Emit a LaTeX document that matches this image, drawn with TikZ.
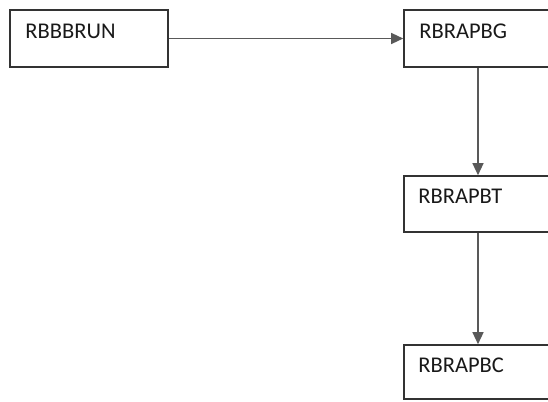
\documentclass[tikz,border=0pt]{standalone}
\usepackage{fontspec}
\setmainfont{Carlito}
\usetikzlibrary{arrows.meta}

\begin{document}
\begin{tikzpicture}[x=1pt, y=-1pt,
  box/.style={draw=black!80, line width=1.6pt, fill=white, rectangle, inner sep=0pt},
  txt/.style={anchor=base west, inner sep=0pt, font=\fontsize{22.5}{25}\selectfont, text=black!90},
  link/.style={draw=black!65, line width=1.3pt, -{Triangle[length=12pt,width=11pt]}}]
  \useasboundingbox (0,0) rectangle (548,401);
  \clip (0,0) rectangle (548,401);
  \node (run) [box, minimum width=158pt, minimum height=57pt] at (89,38.5) {};
  \node (bg) [box, minimum width=148pt, minimum height=57pt] at (478,38.5) {};
  \node (bt) [box, minimum width=148pt, minimum height=56pt] at (478,204) {};
  \node (bc) [box, minimum width=148pt, minimum height=54pt] at (478,372) {};
  \node (runtxt) [txt] at ([xshift=16pt, yshift=-29pt]run.north west) {RBBBRUN};
  \node (bgtxt) [txt] at ([xshift=16pt, yshift=-29pt]bg.north west) {RBRAPBG};
  \node (bttxt) [txt] at ([xshift=15pt, yshift=-28pt]bt.north west) {RBRAPBT};
  \node (bctxt) [txt] at ([xshift=15pt, yshift=-28pt]bc.north west) {RBRAPBC};
  \draw [link] (run.east) -- (bg.west);
  \draw [link] (bg) -- (bt);
  \draw [link] (bt) -- (bc);
\end{tikzpicture}
\end{document}
